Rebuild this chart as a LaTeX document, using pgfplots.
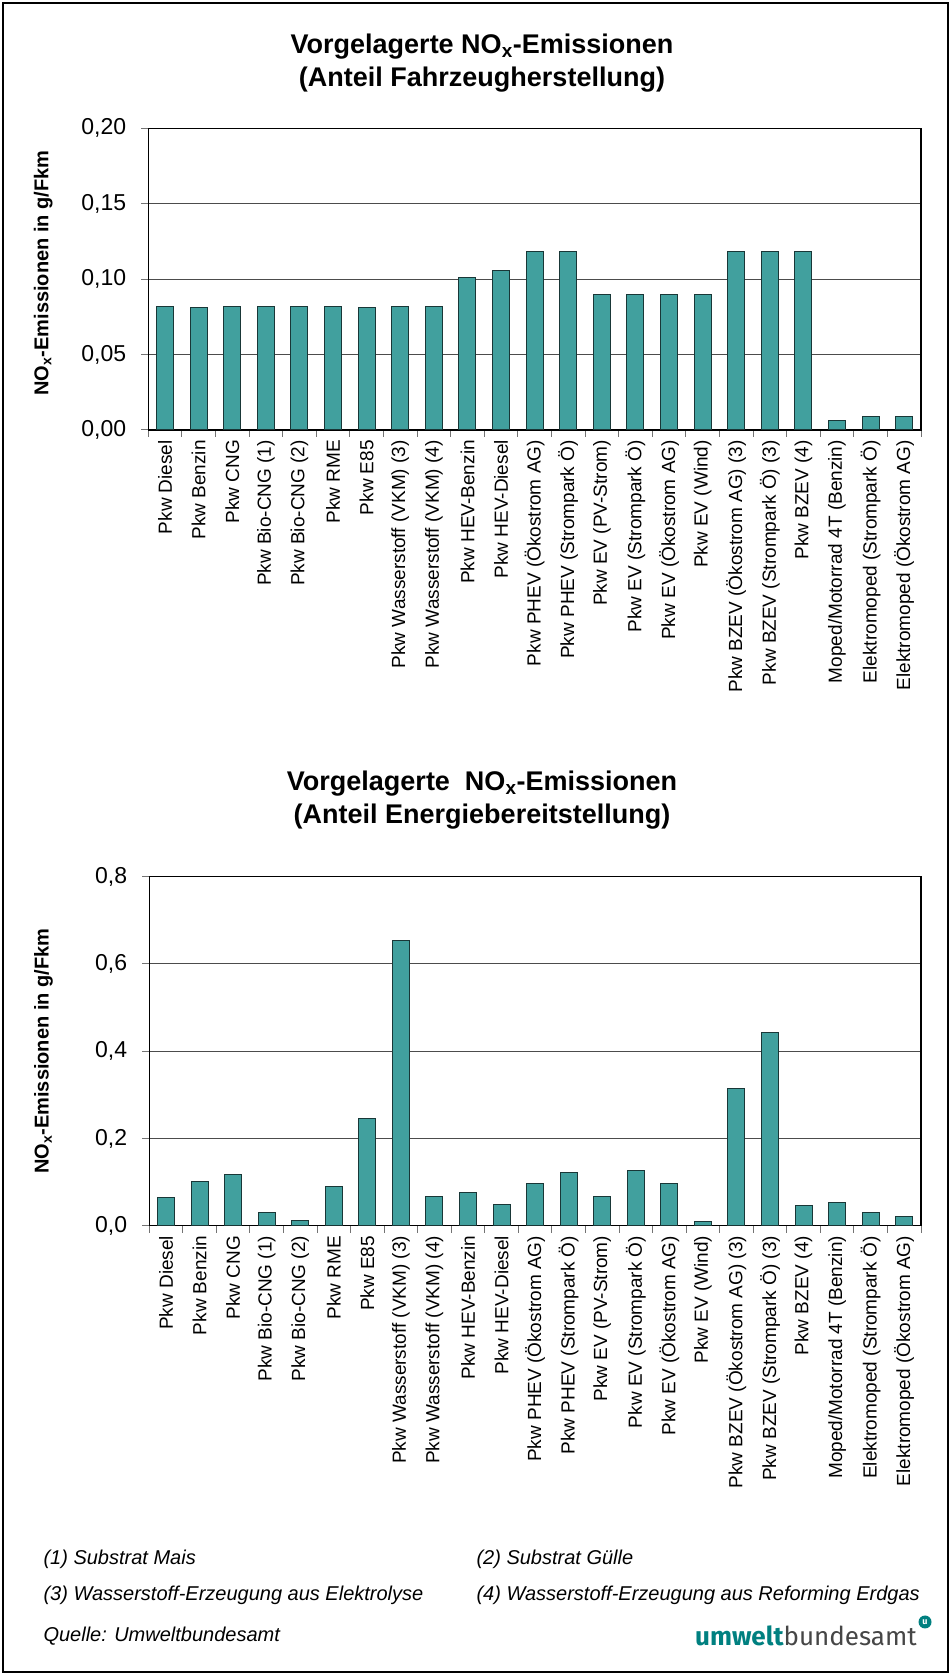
\documentclass[border=0pt]{standalone}
\usepackage{fontspec}
\setmainfont{Liberation Sans}
\newfontfamily\logofont{Fira Sans}
\usepackage{pgfplots}
\pgfplotsset{compat=1.18}

\definecolor{ubabar}{RGB}{65,160,158}
\definecolor{ubaedge}{RGB}{25,55,55}
\definecolor{logoteal}{RGB}{0,128,128}
\definecolor{logogray}{RGB}{70,70,70}

\pgfplotsset{
  nox/.style={
    ybar, bar width=17pt, scale only axis,
    xmin=-0.5, xmax=22.5, ymin=0,
    xtick={0,...,22},
    xticklabels={Pkw Diesel, Pkw Benzin, Pkw CNG, {Pkw Bio-CNG (1)}, {Pkw Bio-CNG (2)},
      Pkw RME, Pkw E85, {Pkw Wasserstoff (VKM) (3)}, {Pkw Wasserstoff (VKM) (4)},
      Pkw HEV-Benzin, Pkw HEV-Diesel, {Pkw PHEV (Ökostrom AG)}, {Pkw PHEV (Strompark Ö)},
      {Pkw EV (PV-Strom)}, {Pkw EV (Strompark Ö)}, {Pkw EV (Ökostrom AG)}, {Pkw EV (Wind)},
      {Pkw BZEV (Ökostrom AG) (3)}, {Pkw BZEV (Strompark Ö) (3)}, {Pkw BZEV (4)},
      {Moped/Motorrad 4T (Benzin)}, {Elektromoped (Strompark Ö)}, {Elektromoped (Ökostrom AG)}},
    minor xtick={-0.5,0.5,...,22.5},
    major x tick style={draw=none},
    minor x tick style={draw=black!55, line width=1pt},
    y tick style={draw=black!55, line width=1pt},
    tick align=outside, xtick pos=bottom, ytick pos=left,
    major tick length=7pt, minor tick length=7pt,
    ymajorgrids, grid style={black!70, line width=1pt},
    axis line style={black, line width=1.3pt},
    scaled y ticks=false,
    /pgf/number format/assume math mode=true,
    xticklabel style={rotate=90, anchor=east, inner sep=3pt,
      font=\fontsize{19}{22}\selectfont},
    yticklabel style={inner sep=0pt, xshift=-15pt, font=\fontsize{23}{26}\selectfont},
    ylabel={NO\textsubscript{x}-Emissionen in g/Fkm},
    ylabel style={anchor=center, font=\bfseries\fontsize{20}{24}\selectfont},
  }
}

\begin{document}
\begin{tikzpicture}[x=1pt,y=1pt]
\useasboundingbox (0,0) rectangle (951,1675);
\draw[line width=2.5pt] (3,3) rectangle (948,1672);

\node[font=\bfseries\fontsize{27}{33}\selectfont, align=center] at (482,1611.5)
  {Vorgelagerte NO\textsubscript{x}-Emissionen\\(Anteil Fahrzeugherstellung)};
\node[font=\bfseries\fontsize{27}{33}\selectfont, align=center] at (482,874.5)
  {Vorgelagerte \ NO\textsubscript{x}-Emissionen\\(Anteil Energiebereitstellung)};

% Anteil Fahrzeugherstellung
\begin{axis}[nox,
    at={(148.3pt,1245pt)}, anchor=south west,
    width=772.7pt, height=301.7pt,
    ymax=0.2, ytick={0,0.05,0.1,0.15,0.2},
    yticklabel style={/pgf/number format/.cd, fixed, fixed zerofill, precision=2, use comma},
    ylabel style={at={(axis description cs:-0.136,0.52)}},
  ]
  \addplot[fill=ubabar, draw=ubaedge, line width=1pt] coordinates {
    (0,0.082) (1,0.081) (2,0.082) (3,0.082) (4,0.082) (5,0.082) (6,0.081)
    (7,0.082) (8,0.082) (9,0.101) (10,0.106) (11,0.118) (12,0.118) (13,0.090)
    (14,0.090) (15,0.090) (16,0.090) (17,0.118) (18,0.118) (19,0.118)
    (20,0.006) (21,0.009) (22,0.009)
  };
\end{axis}

% Anteil Energiebereitstellung
\begin{axis}[nox,
    at={(149.3pt,449.3pt)}, anchor=south west,
    width=771.7pt, height=349pt,
    ymax=0.8, ytick={0,0.2,0.4,0.6,0.8},
    yticklabel style={/pgf/number format/.cd, fixed, fixed zerofill, precision=1, use comma},
    ylabel style={at={(axis description cs:-0.137,0.5)}},
  ]
  \addplot[fill=ubabar, draw=ubaedge, line width=1pt] coordinates {
    (0,0.064) (1,0.102) (2,0.118) (3,0.031) (4,0.011) (5,0.090) (6,0.246)
    (7,0.653) (8,0.067) (9,0.077) (10,0.048) (11,0.097) (12,0.121) (13,0.066)
    (14,0.127) (15,0.096) (16,0.010) (17,0.315) (18,0.444) (19,0.047)
    (20,0.053) (21,0.030) (22,0.022)
  };
\end{axis}

\begin{scope}[font=\itshape\fontsize{20}{24}\selectfont]
  \node[anchor=west] at (40,116) {(1) Substrat Mais};
  \node[anchor=west] at (473,116) {(2) Substrat Gülle};
  \node[anchor=west] at (40,80) {(3) Wasserstoff-Erzeugung aus Elektrolyse};
  \node[anchor=west] at (473,80) {(4) Wasserstoff-Erzeugung aus Reforming Erdgas};
  \node[anchor=west] at (40,39) {Quelle: Umweltbundesamt};
\end{scope}

\node[anchor=east, inner sep=0pt] at (917,39)
  {\logofont\fontsize{26}{30}\selectfont\textcolor{logoteal}{\bfseries umwelt}\textcolor{logogray}{bundesamt}};
\fill[logoteal] (925,53) circle (6.5);
\node[text=white, font=\logofont\bfseries\fontsize{9}{9}\selectfont, inner sep=0pt] at (925,53) {u};
\end{tikzpicture}
\end{document}
